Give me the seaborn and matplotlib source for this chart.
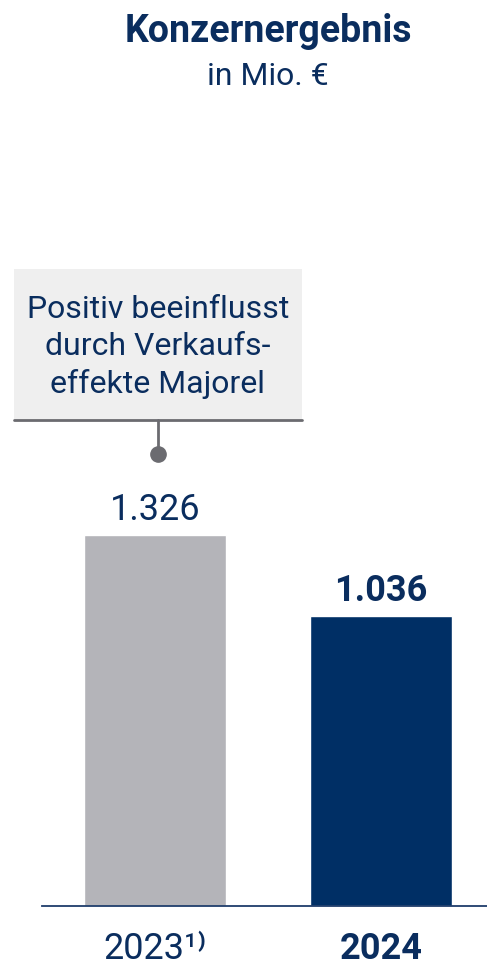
import matplotlib
matplotlib.use("Agg")
import matplotlib.pyplot as plt
import matplotlib.patches as mpatches
import seaborn as sns
import pandas as pd

years = ["2023", "2024"]
tick_labels = ["2023¹⁾", "2024"]
values = [1326, 1036]
value_labels = ["1.326", "1.036"]
bar_colors = ["#b4b4b9", "#002f65"]
note = "Positiv beeinflusst\ndurch Verkaufs-\neffekte Majorel"

navy = "#0a2d5e"
sns.set_style("white")
plt.rcParams["font.family"] = ["Roboto", "DejaVu Sans"]

df = pd.DataFrame({"year": years, "value": values})

fig = plt.figure(figsize=(4.87, 9.7), dpi=100)
ax = fig.add_axes([42 / 487, 63 / 970, 445 / 487, 907 / 970])
sns.barplot(data=df, x="year", y="value", hue="year", palette=bar_colors,
            width=0.628, legend=False, ax=ax, saturation=1)
ax.set_xlim(-0.5, 1.469)
ax.set_ylim(0, 3242)
ax.set_xlabel("")
ax.set_ylabel("")
ax.set_yticks([])
for s in ["top", "right", "left"]:
    ax.spines[s].set_visible(False)
ax.spines["bottom"].set_color("#1f3d6b")
ax.spines["bottom"].set_linewidth(1.3)
ax.tick_params(axis="x", length=0, pad=17)
ax.set_xticks([0, 1])
ax.set_xticklabels(tick_labels, fontsize=26, color=navy)
ax.get_xticklabels()[1].set_fontweight("bold")

for i, (v, lab) in enumerate(zip(values, value_labels)):
    ax.text(i, v + 28, lab, ha="center", va="bottom", fontsize=26, color=navy,
            fontweight="bold" if i == 1 else "normal")

# annotation box over 2023 bar
fig.patches.append(mpatches.Rectangle((14 / 487, 1 - 421 / 970), 288 / 487, 151 / 970,
                                      transform=fig.transFigure, facecolor="#efefef",
                                      edgecolor="none", zorder=0))
fig.lines.append(plt.Line2D([14 / 487, 302 / 487], [1 - 421 / 970] * 2,
                            transform=fig.transFigure, color="#6b6b70", lw=2))
fig.lines.append(plt.Line2D([158 / 487, 158 / 487], [1 - 421 / 970, 1 - 455 / 970],
                            transform=fig.transFigure, color="#6b6b70", lw=2))
fig.lines.append(plt.Line2D([158 / 487], [1 - 455 / 970], transform=fig.transFigure,
                            marker="o", markersize=11, color="#6b6b70", lw=0))
fig.text(158 / 487, 1 - 347 / 970, note, ha="center", va="center", fontsize=23,
         color=navy, linespacing=1.33)

fig.text(268 / 487, 1 - 31 / 970, "Konzernergebnis", ha="center", va="center",
         fontsize=27, fontweight="bold", color=navy)
fig.text(268 / 487, 1 - 77 / 970, "in Mio. €", ha="center", va="center",
         fontsize=23, color=navy)

fig.savefig("out.png", dpi=100)
